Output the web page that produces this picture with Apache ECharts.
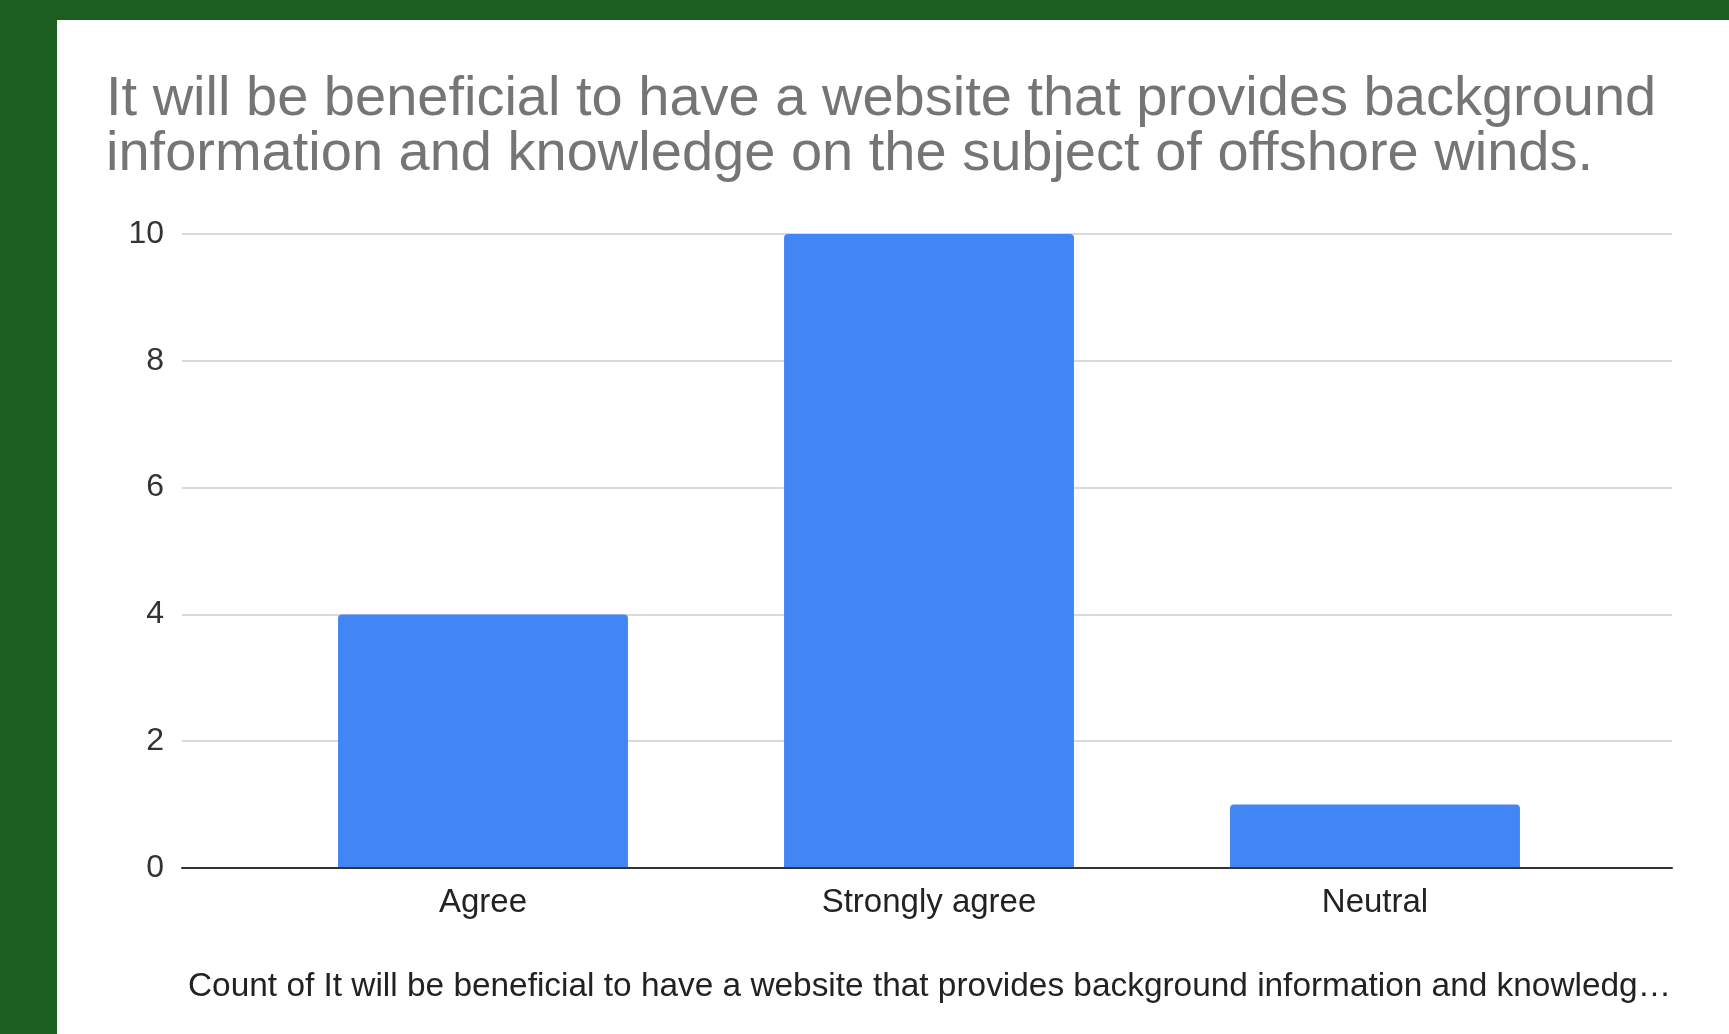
<!DOCTYPE html>
<html>
<head>
<meta charset="utf-8">
<script src="https://cdn.jsdelivr.net/npm/echarts@6/dist/echarts.min.js"></script>
<style>
	html, body { margin: 0; padding: 0; background: #1b5e20; width: 1729px; height: 1034px; overflow: hidden; }
	#chart { position: absolute; left: 57px; top: 20px; width: 1672px; height: 1014px; background: #ffffff; }
</style>
</head>
<body>
<div id="chart"></div>
<script>
	// chart data
	var categories = ['Agree', 'Strongly agree', 'Neutral'];
	var counts = [4, 10, 1];
	var titleText = 'It will be beneficial to have a website that provides background\ninformation and knowledge on the subject of offshore winds.';
	var axisTitle = 'Count of It will be beneficial to have a website that provides background information and knowledge on the subject of offshore winds.';

	var chart = echarts.init(document.getElementById('chart'));
	var fontFamily = 'Arial, "Liberation Sans", sans-serif';

	chart.setOption({
		backgroundColor: '#ffffff',
		animation: false,
		title: [{
			text: titleText,
			left: 44,
			top: 47,
			textStyle: { color: '#757575', fontFamily: fontFamily, fontWeight: 'normal', fontSize: 56, lineHeight: 55 }
		}, {
			// x axis caption, cut off like in the original
			text: axisTitle,
			left: 126,
			top: 945,
			textStyle: {
				color: '#222222', fontFamily: fontFamily, fontWeight: 'normal', fontSize: 33.4,
				width: 1495, overflow: 'truncate', ellipsis: '…'
			}
		}],
		// grid 0: gridlines and baseline over the full width, grid 1: the bars (narrower, like the original)
		grid: [
			{ left: 125, right: 57, top: 214, bottom: 166, outerBoundsMode: 'none', containLabel: false },
			{ left: 203, right: 131, top: 214, bottom: 166, outerBoundsMode: 'none', containLabel: false }
		],
		xAxis: [{
			type: 'category',
			gridIndex: 0,
			data: categories,
			z: 5,
			axisTick: { show: false },
			axisLabel: { show: false },
			axisLine: { lineStyle: { color: '#333333', width: 2 } }
		}, {
			type: 'category',
			gridIndex: 1,
			data: categories,
			axisTick: { show: false },
			axisLine: { show: false },
			axisLabel: { color: '#222222', fontFamily: fontFamily, fontSize: 33, margin: 18 }
		}],
		yAxis: [{
			type: 'value',
			gridIndex: 0,
			min: 0,
			max: 10,
			interval: 2,
			axisLine: { show: false },
			axisTick: { show: false },
			axisLabel: { color: '#333333', fontFamily: fontFamily, fontSize: 32, margin: 18 },
			splitLine: { lineStyle: { color: '#cccccc', width: 1.5 } }
		}, {
			type: 'value',
			gridIndex: 1,
			min: 0,
			max: 10,
			interval: 2,
			show: false
		}],
		series: [{
			type: 'bar',
			xAxisIndex: 1,
			yAxisIndex: 1,
			data: counts,
			barWidth: '65%',
			itemStyle: { color: '#4285f4', borderRadius: [4, 4, 0, 0] }
		}]
	});
</script>
</body>
</html>
